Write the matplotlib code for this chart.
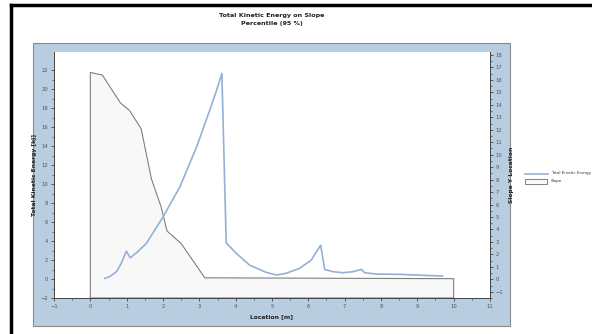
import matplotlib
matplotlib.use("Agg")
import matplotlib.pyplot as plt
import numpy as np
from matplotlib.patches import Rectangle
from matplotlib.lines import Line2D

# kinetic energy (left axis, kJ)
ke_x = [0.40, 0.53, 0.72, 0.85, 0.99, 1.10, 1.27, 1.54, 1.77, 2.00, 2.23, 2.46, 2.69, 2.92,
        3.28, 3.47, 3.62, 3.74, 4.02, 4.38, 4.84, 5.12, 5.39, 5.76, 6.08, 6.34, 6.45, 6.68,
        6.95, 7.23, 7.46, 7.55, 7.87, 8.51, 8.97, 9.69]
ke_y = [0.07, 0.24, 0.77, 1.64, 2.93, 2.23, 2.76, 3.74, 5.13, 6.53, 8.10, 9.67, 11.77, 13.86,
        17.7, 19.8, 21.65, 3.80, 2.69, 1.47, 0.70, 0.42, 0.60, 1.12, 1.99, 3.56, 1.01, 0.77,
        0.66, 0.77, 1.01, 0.66, 0.52, 0.49, 0.42, 0.31]

# slope profile (right axis)
slope_x = [0.0, 0.0, 0.33, 0.83, 1.08, 1.40, 1.68, 1.95, 2.11, 2.50, 3.15, 10.0, 10.0]
slope_y = [-1.5, 16.6, 16.39, 14.15, 13.54, 12.07, 8.07, 5.8, 3.88, 2.87, 0.12, 0.05, -1.5]

W, H = 592, 334
fig = plt.figure(figsize=(W / 100, H / 100), dpi=100)
fig.patch.set_facecolor("white")

panel = "#b9cde1"
fig.add_artist(Rectangle((33 / W, 1 - 326 / H), 477 / W, 283 / H, transform=fig.transFigure,
                         facecolor=panel, edgecolor="#8a8a8a", lw=0.8, zorder=0))
# black outer frame
fig.add_artist(Line2D([11 / W, 11 / W], [0, 1 - 5 / H], transform=fig.transFigure, color="black", lw=2.5))
fig.add_artist(Line2D([11 / W, 1], [1 - 5 / H, 1 - 5 / H], transform=fig.transFigure, color="black", lw=2.5))

ax = fig.add_axes([54 / W, 1 - 298 / H, 436 / W, 246 / H])
ax.set_facecolor("white")
ax2 = ax.twinx()

ax2.fill(slope_x, slope_y, facecolor="#f8f8f8", edgecolor="#7f7f7f", lw=0.8, zorder=1)
ax2.set_ylim(-1.5, 18.24)
ax.set_zorder(ax2.get_zorder() + 1)
ax.patch.set_visible(False)
ax2.patch.set_visible(True)
ax2.patch.set_facecolor("white")

ax.plot(ke_x, ke_y, color="#93b1d5", lw=1.2)
ax.set_xlim(-1, 11)
ax.set_ylim(-2, 23.9)

tc = "#555555"
ax.set_xticks(np.arange(-1, 12, 1))
ax.set_xticks(np.arange(-1, 11, 0.5), minor=True)
ax.set_yticks(np.arange(-2, 23, 2))
ax.set_yticks(np.arange(-2, 23, 1), minor=True)
ax2.set_yticks(np.arange(-1, 19, 1))
ax2.set_yticks(np.arange(-1.5, 18.2, 0.5), minor=True)
for a in (ax, ax2):
    a.tick_params(which="major", length=2.5, width=0.6, color="#444444", labelsize=3.8,
                  labelcolor=tc, pad=1.5)
    a.tick_params(which="minor", length=1.5, width=0.5, color="#444444")
    a.spines["top"].set_visible(False)
    for s in ("left", "bottom", "right"):
        a.spines[s].set_color("#444444")
        a.spines[s].set_linewidth(0.7)
ax.spines["right"].set_visible(False)
ax2.spines["left"].set_visible(False)
ax2.spines["bottom"].set_visible(False)

ax.set_xlabel("Location [m]", fontsize=4.3, fontweight="bold", color="#222222", labelpad=4)
ax.set_ylabel("Total Kinetic Energy [kJ]", fontsize=4.3, fontweight="bold", color="#222222", labelpad=3)
ax2.set_ylabel("Slope Y Location", fontsize=4.3, fontweight="bold", color="#222222", labelpad=4)

fig.text(272 / W, 1 - 16 / H, "Total Kinetic Energy on Slope", ha="center", va="center",
         fontsize=4.6, fontweight="bold", color="#222222")
fig.text(272 / W, 1 - 23 / H, "Percentile (95 %)", ha="center", va="center",
         fontsize=4.6, fontweight="bold", color="#222222")

# legend
fig.add_artist(Line2D([525 / W, 548 / W], [1 - 174 / H, 1 - 174 / H], transform=fig.transFigure,
                      color="#93b1d5", lw=1.2))
fig.add_artist(Rectangle((525 / W, 1 - 184 / H), 22 / W, 5 / H, transform=fig.transFigure,
                         facecolor="#f8f8f8", edgecolor="#7f7f7f", lw=0.7))
fig.text(551 / W, 1 - 173 / H, "Total Kinetic Energy", fontsize=2.9, va="center", color="#333333")
fig.text(551 / W, 1 - 181 / H, "Slope", fontsize=2.9, va="center", color="#333333")

fig.savefig("out.png", dpi=100)
